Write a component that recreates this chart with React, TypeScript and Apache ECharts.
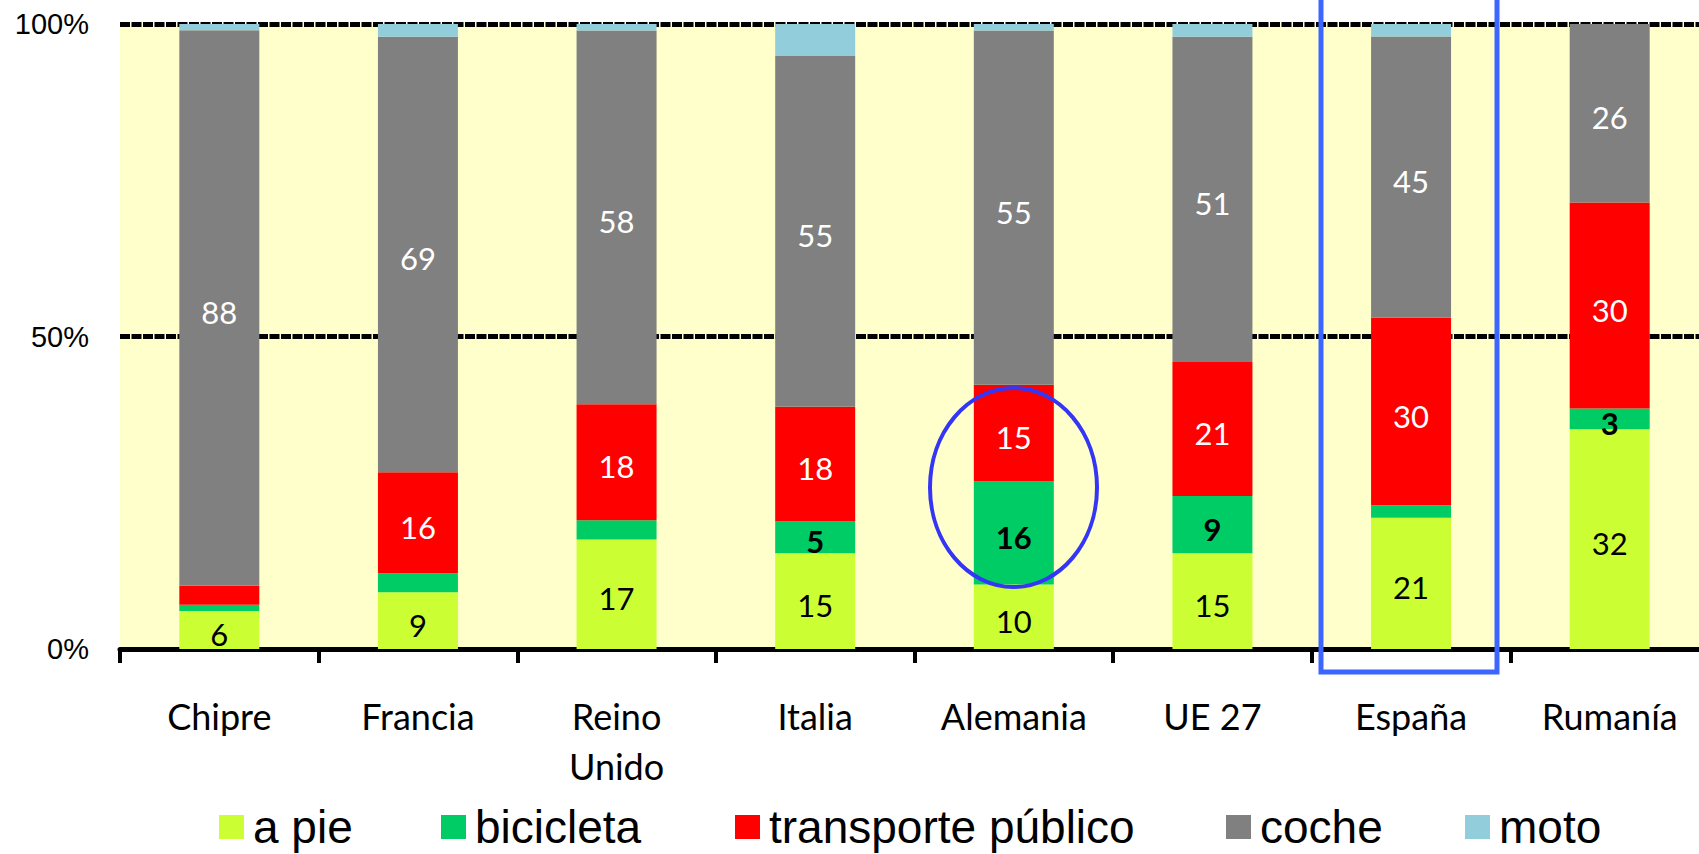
import React, { useEffect, useRef } from "react";
import * as echarts from "echarts";

const categories = ["Chipre", "Francia", "Reino\nUnido", "Italia", "Alemania", "UE 27", "España", "Rumanía"];
const seriesNames = ["a pie", "bicicleta", "transporte público", "coche", "moto"];
const aPie = [6, 9, 17, 15, 10, 15, 21, 32];
const bicicleta = [1, 3, 3, 5, 16, 9, 2, 3];
const transporte = [3, 16, 18, 18, 15, 21, 30, 30];
const coche = [88, 69, 58, 55, 55, 51, 45, 26];
const moto = [1, 2, 1, 5, 1, 2, 2, 0];
const showAPie = [true, true, true, true, true, true, true, true];
const showBici = [false, false, false, true, true, true, false, true];
const showTransporte = [false, true, true, true, true, true, true, true];
const showCoche = [true, true, true, true, true, true, true, true];
const showMoto = [false, false, false, false, false, false, false, false];
const yTicks = [0, 50, 100];

const colors = ["#CCFF33", "#00CC66", "#FF0000", "#808080", "#92CDDC"];
const labelColors = ["#000000", "#000000", "#FFFFFF", "#FFFFFF", "#000000"];
const labelBold = [false, true, false, false, false];
const legendLeft = [219, 441, 735, 1226, 1465];

export default function App() {
  const ref = useRef<HTMLDivElement>(null);
  useEffect(() => {
    if (!ref.current) return;
    const chart = echarts.init(ref.current, undefined, { renderer: "svg" });
    const all = [aPie, bicicleta, transporte, coche, moto];
    const shows = [showAPie, showBici, showTransporte, showCoche, showMoto];
    const totals = categories.map((_, i) => all.reduce((s, arr) => s + arr[i], 0));
    const series = all.map((arr, si) => ({
      name: seriesNames[si],
      type: "bar",
      stack: "total",
      barWidth: 80,
      itemStyle: { color: colors[si] },
      label: {
        show: true,
        position: "inside",
        offset: [0, 4],
        fontFamily: "Lato",
        fontSize: 31,
        fontWeight: labelBold[si] ? "bold" : "normal",
        color: labelColors[si],
        formatter: (p: any) => String(p.data.raw),
      },
      data: arr.map((v, i) => ({
        value: (v / totals[i]) * 100,
        raw: v,
        label: { show: shows[si][i] },
      })),
    }));
    chart.setOption({
      animation: false,
      color: colors,
      grid: {
        left: 120,
        right: 3,
        top: 24,
        bottom: 205,
        show: true,
        backgroundColor: "#FFFFCC",
        borderWidth: 0,
      },
      legend: seriesNames.map((n, i) => ({
        data: [n],
        left: legendLeft[i],
        top: 804,
        padding: 0,
        itemWidth: 25,
        itemHeight: 24,
        icon: "rect",
        selectedMode: false,
        textStyle: { fontFamily: "Liberation Sans", fontSize: 46, color: "#000", padding: [0, 0, 0, 4] },
      })),
      xAxis: {
        type: "category",
        data: categories,
        axisLine: { show: true, lineStyle: { color: "#000", width: 5 } },
        axisTick: { show: true, length: 14, lineStyle: { color: "#000", width: 4 } },
        axisLabel: {
          interval: 0,
          margin: 42,
          fontFamily: "Lato",
          fontSize: 36,
          lineHeight: 50,
          color: "#000",
        },
      },
      yAxis: {
        type: "value",
        min: yTicks[0],
        max: yTicks[yTicks.length - 1],
        interval: yTicks[1] - yTicks[0],
        axisLine: { show: false },
        axisTick: { show: false },
        splitLine: { show: true, lineStyle: { color: "#000", width: 5, type: [10, 1.5] } },
        axisLabel: {
          formatter: "{value}%",
          fontFamily: "Liberation Sans",
          fontSize: 29,
          color: "#000",
          margin: 31,
        },
      },
      series,
      graphic: [
        {
          type: "ellipse",
          z: 100,
          shape: { cx: 1013.5, cy: 487.5, rx: 83.5, ry: 99.5 },
          style: { fill: "none", stroke: "#3535F5", lineWidth: 4 },
        },
        {
          type: "rect",
          z: 100,
          shape: { x: 1321, y: -10, width: 176, height: 682 },
          style: { fill: "none", stroke: "#3C66FF", lineWidth: 5 },
        },
      ],
    });
    return () => chart.dispose();
  }, []);
  return (
    <div style={{ position: "fixed", left: 0, top: 0, width: 1699, height: 854, overflow: "hidden", background: "#fff" }}>
      <div ref={ref} style={{ width: 1712, height: 854 }} />
    </div>
  );
}
